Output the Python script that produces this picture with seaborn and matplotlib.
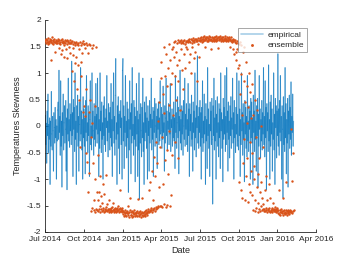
import matplotlib
matplotlib.use("Agg")
import matplotlib.pyplot as plt
import matplotlib.dates as mdates
import matplotlib.ticker as mticker
from matplotlib.lines import Line2D
import pandas as pd
import seaborn as sns

# ---- data (values in hundredths, one list per month) ----
month_starts = ["2014-07-01", "2014-08-01", "2014-09-01", "2014-10-01", "2014-11-01",
                "2014-12-01", "2015-01-01", "2015-02-01", "2015-03-01", "2015-04-01",
                "2015-05-01", "2015-06-01", "2015-07-01", "2015-08-01", "2015-09-01",
                "2015-10-01", "2015-11-01", "2015-12-01", "2016-01-01", "2016-02-01"]

empirical = [
    [-12, 20, -35, 5, -70, 28, -18, 60, -50, 3, -25, 15, -110, 9, -38, 65, -15, -45, 18, -9, -85, 25, -3, -32, 35, -22, 12, -100, 0, -28, 30],
    [45, -25, 105, -12, 18, -55, 85, -38, 9, -115, 25, -18, 60, -45, 6, 38, -32, -6, 48, -85, 15, -120, 32, -15, 90, -28, 12, -40, 42, -9, 22],
    [-35, 122, -18, 25, -95, 50, -6, 35, -48, 100, -25, 9, -110, 38, -12, 58, -38, 18, -85, 45, 3, -28, 110, -15, 28, -45, 12, -100, 55, -22],
    [32, -38, 15, -90, 48, -12, 95, -28, 6, -50, 38, -18, 25, -95, 12, 85, -35, 0, -45, 100, -22, 28, -9, -55, 42, -25, 18, -38, 80, -6, 22],
    [-32, 90, -15, 35, -95, 12, -42, 100, -9, 28, -50, 45, -25, 6, -100, 38, -18, 55, -35, 15, -48, 32, -3, 95, -28, 9, -58, 42, -12, 25],
    [-45, 35, -22, 80, -38, 12, -95, 45, -9, 100, -32, 18, -55, 58, 127, -25, 6, -110, 38, -15, 55, -42, 22, -90, 28, -3, 48, -35, 15, -100, 105],
    [127, -28, 38, -80, 18, -12, 95, -38, 9, -60, 45, -22, 32, -125, 12, -45, 85, -6, 25, -90, 42, -32, 110, -18, 3, -55, 48, -25, 35, -105, 18],
    [-38, 80, -15, 28, -95, 12, -45, 100, -138, 22, -32, 42, -9, -58, 35, -22, 90, -48, 6, -110, 45, -28, 25, -12, 55, -42, 15, -100],
    [38, -18, 9, -85, 48, -32, 22, -3, 90, -45, 12, -25, 35, -95, 28, -12, 52, -38, 0, 42, -22, 18, -80, 32, -6, 45, -35, 15, -28, 85, -15],
    [-9, 35, -42, 22, -25, 75, -12, 6, -85, 38, -32, 15, 90, -18, 28, -45, 9, -6, 42, -35, 25, -15, 80, -48, 12, -3, 32, -38, 18, -22],
    [45, -28, 15, -80, 95, -12, 25, -42, 6, 55, -22, 35, -90, 18, -9, 105, -32, 12, -45, 38, -15, 28, -55, 48, 0, -25, 90, -38, 22, -6, 42],
    [-35, 12, -48, 80, -18, 32, -95, 42, -9, 22, -38, 58, -25, 6, -85, 45, -12, 28, -45, 100, -22, 15, -58, 38, -3, 132, -32, 18, -42, 35],
    [-12, 48, -38, 25, -100, 35, -22, 85, -48, 9, -32, 60, -15, 18, -110, 42, -28, 12, -80, 110, -18, 32, -42, 3, -95, 45, -9, 28, -35, 52, -25],
    [-147, 38, -18, 90, -45, 15, -28, 48, -100, 22, -12, 55, -38, 6, -58, 42, -22, 32, -80, 100, -9, 25, -42, 12, -105, 52, -25, 35, -15, 95, -48],
    [18, -35, 110, -12, 28, -85, 45, -25, 9, -60, 38, -18, 55, -42, 15, -6, 90, -32, 25, -100, 48, -22, 3, -50, 35, -15, 100, -38, 22, -28],
    [-45, 85, -18, 32, -95, 12, -35, 100, -9, 25, -55, 42, -25, 6, -105, 48, -15, 35, -42, 18, -58, 95, -28, 9, -48, 38, -6, 28, -100, 52, -22],
    [45, -32, 15, -110, 58, -12, 28, -48, 105, -25, 9, -85, 38, -18, 52, -115, 22, -38, 95, -6, 32, -60, 12, -28, 48, -45, 25, -15, 110, -35],
    [18, -58, 85, -22, 35, -120, 42, -9, 25, -48, 115, -28, 12, -100, 45, -38, 58, -15, 32, -85, 6, -25, 100, -45, 22, -110, 52, -3, 38, -60, 28],
    [-18, 136, -38, 32, -55, 48, -12, 95, -28, 18, -100, 38, -6, -135, 55, -35, 25, -48, 110, -22, 42, -90, 12, -32, 52, -115, 28, -15, 58, -42, 35],
    [-25, 83, -55, 18, -12, 60, -38, 9],
]

ensemble = [
    [160, 163, 157, 165, 158, 162, 155, 166, 159, 161, 156, 164, 160, 125, 158, 163, 157, 167, 161, 154, 162, 159, 165, 158, 140, 160, 156, 163, 161, 157, 164],
    [161, 157, 148, 163, 159, 155, 135, 162, 158, 164, 144, 156, 160, 153, 130, 159, 162, 157, 146, 161, 155, 163, 128, 158, 160, 150, 156, 162, 138, 157, 159],
    [157, 104, 160, 134, 155, 147, 85, 158, 153, 119, 156, 159, 130, 70, 154, 157, 115, 152, 145, 50, 158, -40, 95, 120, 153, 156, 138, 160, 26, 155],
    [154, 38, 147, 19, -50, 156, 70, -68, 152, 137, -125, 26, 155, -89, 50, 153, -160, -20, 147, 5, -155, -70, 152, -140, -158, 38, -162, -100, 150, -156, -125],
    [-158, -140, -55, -161, -125, -156, -95, -163, -150, -132, -157, -160, -145, -110, -159, -155, -162, -128, -157, -160, -153, -92, -158, -148, -161, -156, -159, -140, -162, -157],
    [-157, -160, -155, -162, -158, -153, -161, -145, -159, -156, -163, -158, -154, -160, -157, -162, -155, -159, -161, -150, -158, -156, -163, -120, -155, -161, -157, -160, -154, -158, -162],
    [-160, -166, -162, -169, -164, -158, -167, -163, -170, -161, -165, -168, -150, -164, -171, -162, -135, -159, -168, -163, -167, -172, -160, -165, -169, -162, -166, -158, -164, -170, -163],
    [-164, -168, -161, -170, -165, -138, -167, -163, -169, -160, -166, -171, -164, -162, -168, -135, -165, -170, -163, -167, -161, -166, -169, -164, -158, -167, -162, -165],
    [-160, -157, -163, -120, -158, -161, -105, -155, -159, -85, -162, -156, -140, -158, -58, -154, -160, -95, -152, -30, -157, -155, -70, -150, 10, -153, -115, 45, -151, -40, 90],
    [-150, 120, -20, -153, 60, -110, 150, -148, 25, -65, 95, -152, 135, -45, 75, -149, 110, -90, 40, 155, -10, -151, 125, -130, 80, 145, -55, 100, 20, 150],
    [130, 158, -30, 95, 161, 140, 50, 157, 115, 162, -60, 85, 159, 125, 160, 30, 156, 145, 163, 105, 158, 160, 70, 157, 135, 162, 155, 110, 161, 150, 159],
    [160, 145, 163, 158, 120, 165, 161, 135, 159, 164, 100, 162, 157, 150, 166, 160, 128, 163, 158, 165, 140, 161, 164, 85, 160, 163, 155, 166, 130, 162],
    [163, 166, 160, 168, 162, 165, 159, 167, 164, 161, 169, 163, 166, 150, 162, 168, 165, 160, 167, 163, 166, 161, 169, 164, 162, 167, 145, 165, 163, 168, 161],
    [166, 162, 168, 164, 160, 167, 163, 169, 165, 161, 166, 163, 168, 148, 164, 167, 162, 169, 165, 161, 166, 163, 168, 164, 160, 167, 165, 162, 169, 163, 166],
    [164, 161, 167, 163, 160, 166, 162, 168, 164, 150, 163, 165, 160, 167, 162, 158, 164, 145, 161, 163, 135, 159, 162, 140, 157, 125, 160, 145, 156, 110],
    [155, 115, -105, 158, 60, -120, 98, 152, 20, -135, 140, -70, 85, 150, -25, 45, -140, 120, -95, 5, 75, -60, -143, 35, 100, -110, -30, 65, -125, 15, -85],
    [-50, 80, -130, -158, 20, -100, -75, -160, 50, -140, -20, -155, -115, 30, -162, -90, -145, -157, -60, -125, -160, 0, -150, -105, -159, -135, -40, -156, -148, -161],
    [-157, -120, -160, -154, -95, -159, -162, -140, -156, -158, -110, -161, -155, -163, -135, -158, -160, -154, -157, -162, -145, -159, -156, -161, -158, -153, -160, -157, -162, -155, -159],
    [-160, -164, -158, -166, -120, -162, -159, -167, -163, -157, -165, -161, -168, -136, -160, -164, -158, -166, -162, -105, -159, -165, -161, -167, -163, -158, -164, -160, -166, -162, -159],
    [-163, -5, -160, -104, -165, -50, -161, -158],
]

series_names = ["empirical", "ensemble"]
x_tick_dates = ["2014-07-01", "2014-10-01", "2015-01-01", "2015-04-01", "2015-07-01",
                "2015-10-01", "2016-01-01", "2016-04-01"]
y_ticks = [-2, -1.5, -1, -0.5, 0, 0.5, 1, 1.5, 2]

# ---- build tables ----
def to_frame(chunks):
    dates, vals = [], []
    for start, chunk in zip(month_starts, chunks):
        dates.extend(pd.date_range(start, periods=len(chunk), freq="D"))
        vals.extend(v / 100.0 for v in chunk)
    return pd.DataFrame({"Date": dates, "value": vals})

df_emp = to_frame(empirical)
df_ens = to_frame(ensemble)

# split the empirical line into consecutive 2-point pieces so that the
# semi-transparent strokes build up where they overlap (as in the original)
pieces = []
for i in range(len(df_emp) - 1):
    p = df_emp.iloc[i:i + 2].copy()
    p["piece"] = i
    pieces.append(p)
df_seg = pd.concat(pieces, ignore_index=True)

# ---- style ----
sns.set_theme(style="white")
plt.rcParams["font.family"] = ["Liberation Sans", "DejaVu Sans"]
plt.rcParams["axes.unicode_minus"] = False

fig = plt.figure(figsize=(3.49, 2.62), dpi=100)
ax = fig.add_axes([45 / 349, 30 / 262, 271 / 349, 212 / 262])

blue = "#0072BD"
orange = "#D95319"

sns.lineplot(data=df_seg, x="Date", y="value", units="piece", estimator=None, ax=ax,
             color=blue, linewidth=0.75, alpha=0.6, legend=False)
sns.scatterplot(data=df_ens, x="Date", y="value", ax=ax, color=orange, s=3,
                linewidth=0, marker="o", label=series_names[1], zorder=3)

ax.set_xlim(pd.Timestamp(x_tick_dates[0]), pd.Timestamp(x_tick_dates[-1]))
ax.set_ylim(-2, 2)
ax.set_xticks([pd.Timestamp(d) for d in x_tick_dates])
ax.xaxis.set_major_formatter(mdates.DateFormatter("%b %Y"))
ax.set_yticks(y_ticks)
ax.yaxis.set_major_formatter(mticker.FormatStrFormatter("%g"))

axis_col = "#262626"
for side in ["top", "right"]:
    ax.spines[side].set_visible(False)
for side in ["left", "bottom"]:
    ax.spines[side].set_color(axis_col)
    ax.spines[side].set_linewidth(0.6)
ax.tick_params(axis="both", direction="in", length=2.5, width=0.6, color=axis_col,
               labelsize=6, labelcolor=axis_col, pad=3, bottom=True, left=True)

ax.set_xlabel("Date", fontsize=6.5, color=axis_col, labelpad=2)
ax.set_ylabel("Temperatures Skewness", fontsize=6.5, color=axis_col, labelpad=3)

line_handle = Line2D([], [], color=blue, alpha=0.35, linewidth=1.2)
scatter_handle = ax.get_legend_handles_labels()[0][-1]
leg = ax.legend([line_handle, scatter_handle], series_names,
                loc="upper right", bbox_to_anchor=(0.967, 0.962), borderaxespad=0,
                fontsize=6, frameon=True, fancybox=False, handlelength=2.6,
                handletextpad=0.6, borderpad=0.35, labelspacing=0.25,
                markerscale=1.2)
leg.get_frame().set_edgecolor("#7f7f7f")
leg.get_frame().set_linewidth(0.6)

fig.savefig("out.png", dpi=100)
